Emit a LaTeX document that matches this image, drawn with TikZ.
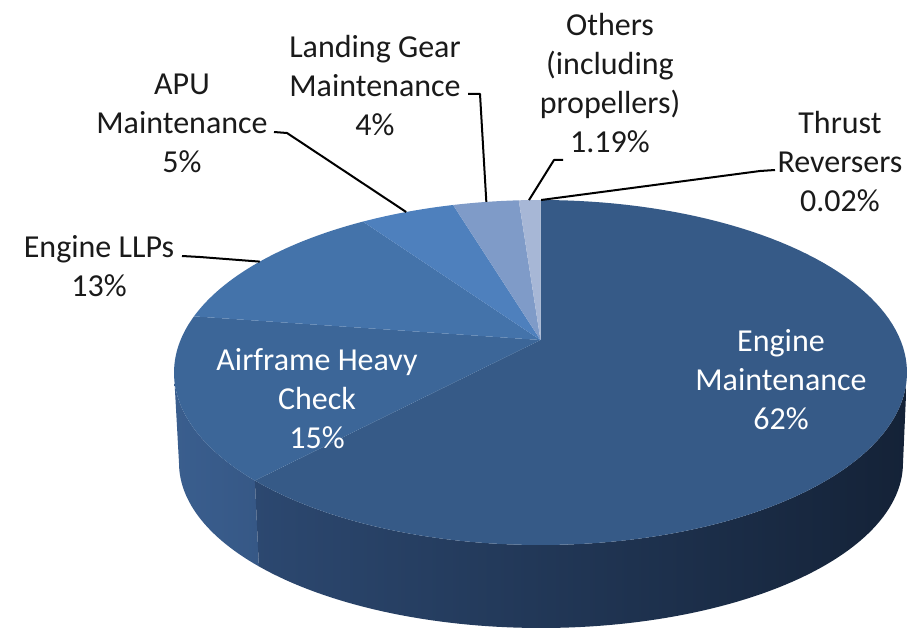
\documentclass[tikz,border=0pt]{standalone}
\usepackage{fontspec}
\setmainfont{Carlito}
\definecolor{emTop}{HTML}{365A87}
\definecolor{ahcTop}{HTML}{3C6698}
\definecolor{llpTop}{HTML}{4473AA}
\definecolor{apuTop}{HTML}{4E80BD}
\definecolor{lgTop}{HTML}{7F9BC8}
\definecolor{othTop}{HTML}{A7B7D6}
\definecolor{emSideL}{HTML}{2C4870}
\definecolor{emSideM}{HTML}{1F3351}
\definecolor{emSideR}{HTML}{142237}
\definecolor{ahcSideL}{HTML}{3A5E8E}
\definecolor{ahcSideR}{HTML}{365886}
\definecolor{txt}{HTML}{1A1A1A}
\begin{document}
\begin{tikzpicture}[x=0.75pt,y=-0.75pt,
  lbl/.style={font=\fontsize{24}{29.25}\selectfont, align=center, inner sep=0pt, text=txt},
  inlbl/.style={lbl, text=white},
  leader/.style={draw=black, line width=1.5pt, line join=round}]
\useasboundingbox (0,0) rectangle (907,631);
% apex of the slices
\coordinate (ctr) at (540.5,340);
% sides
\shade[left color=ahcSideL, right color=ahcSideR]
  plot[domain=180:218.8,samples=30] ({540.5+366.5*cos(\x)},{372.5-172.5*sin(\x)})
  -- plot[domain=218.8:180,samples=30] ({541+362*cos(\x)},{463-165*sin(\x)}) -- cycle;
\shade[left color=emSideL, middle color=emSideM, right color=emSideR]
  plot[domain=218.8:360,samples=90] ({540.5+366.5*cos(\x)},{372.5-172.5*sin(\x)})
  -- plot[domain=360:218.8,samples=90] ({541+362*cos(\x)},{463-165*sin(\x)}) -- cycle;
% top faces
\fill[emTop] (ctr) -- plot[domain=-141.2:90,samples=120] ({540.5+366.5*cos(\x)},{372.5-172.5*sin(\x)}) -- cycle;
\fill[ahcTop] (ctr) -- plot[domain=161:218.8,samples=40] ({540.5+366.5*cos(\x)},{372.5-172.5*sin(\x)}) -- cycle;
\fill[llpTop] (ctr) -- plot[domain=119:161,samples=40] ({540.5+366.5*cos(\x)},{372.5-172.5*sin(\x)}) -- cycle;
\fill[apuTop] (ctr) -- plot[domain=103.8:119,samples=20] ({540.5+366.5*cos(\x)},{372.5-172.5*sin(\x)}) -- cycle;
\fill[lgTop] (ctr) -- plot[domain=93.4:103.8,samples=20] ({540.5+366.5*cos(\x)},{372.5-172.5*sin(\x)}) -- cycle;
\fill[othTop] (ctr) -- plot[domain=90:93.4,samples=10] ({540.5+366.5*cos(\x)},{372.5-172.5*sin(\x)}) -- cycle;
% labels
\node[inlbl] (em) at (781,380) {Engine\\Maintenance\\62\%};
\node[inlbl] (ahc) at (317,399) {Airframe Heavy\\Check\\15\%};
\node[lbl] (llp) at (99,266) {Engine LLPs\\13\%};
\node[lbl] (apu) at (182,123) {APU\\Maintenance\\5\%};
\node[lbl] (lg) at (375,86) {Landing Gear\\Maintenance\\4\%};
\node[lbl] (oth) at (610,83) {Others\\(including\\propellers)\\1.19\%};
\node[lbl] (tr) at (840,162) {Thrust\\Reversers\\0.02\%};
% leader coordinates
\coordinate (llpA) at (182,256);
\coordinate (llpB) at (200,257);
\coordinate (llpC) at ({540.5+366.5*cos(140)},{372.5-172.5*sin(140)});
\coordinate (apuA) at (274,132);
\coordinate (apuB) at (287,133);
\coordinate (apuC) at ({540.5+366.5*cos(111.5)},{372.5-172.5*sin(111.5)});
\coordinate (lgA) at (468,94);
\coordinate (lgB) at (480,94);
\coordinate (lgC) at ({540.5+366.5*cos(98.5)},{372.5-172.5*sin(98.5)});
\coordinate (othA) at (563,160);
\coordinate (othB) at (554,160);
\coordinate (othC) at ({540.5+366.5*cos(91.8)},{372.5-172.5*sin(91.8)});
\coordinate (trA) at (775,170);
\coordinate (trB) at (760,171);
\coordinate (trC) at ({540.5+366.5*cos(89.9)},{372.5-172.5*sin(89.9)});
% leaders
\draw[leader] (llpA) -- (llpB) -- (llpC);
\draw[leader] (apuA) -- (apuB) -- (apuC);
\draw[leader] (lgA) -- (lgB) -- (lgC);
\draw[leader] (othA) -- (othB) -- (othC);
\draw[leader] (trA) -- (trB) -- (trC);
\end{tikzpicture}
\end{document}
